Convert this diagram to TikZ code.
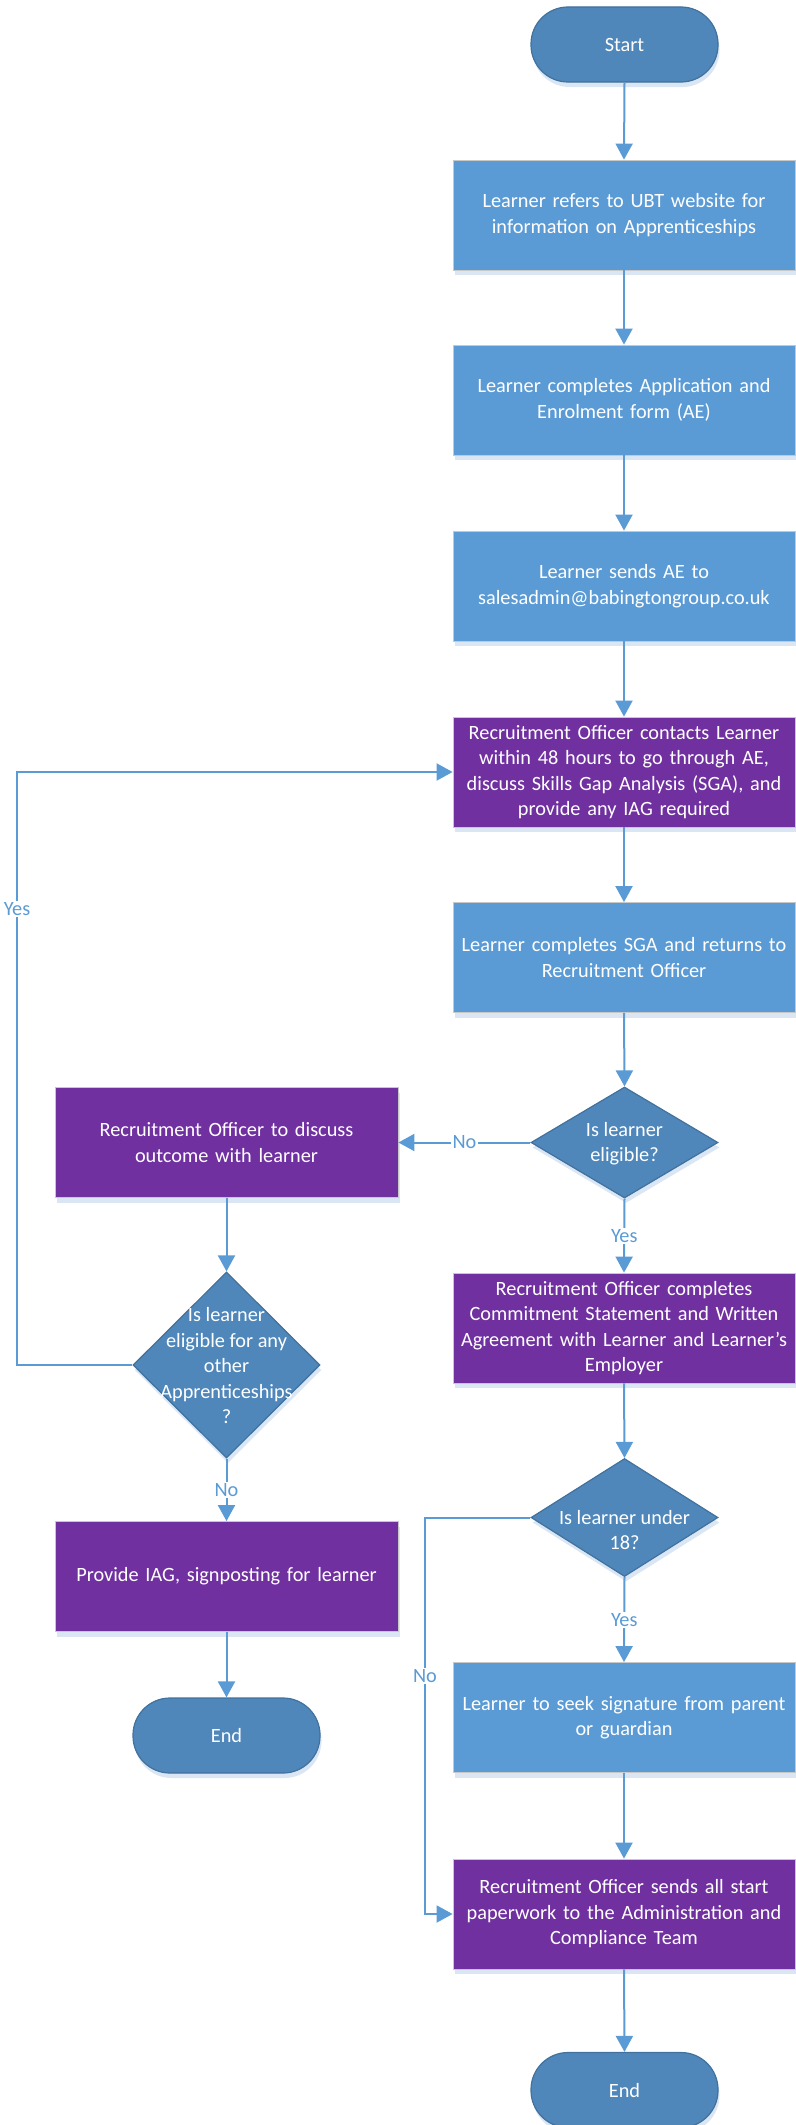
\documentclass[tikz,border=0pt]{standalone}
\usepackage{fontspec}
\setmainfont{Carlito}
\usetikzlibrary{arrows.meta,shapes.geometric,shadows}
\definecolor{lblue}{HTML}{5B9BD5}
\definecolor{purp}{HTML}{7030A0}
\definecolor{dblue}{HTML}{4F87BA}
\definecolor{dborder}{HTML}{41719C}
\definecolor{shad}{HTML}{DAE6F4}
\definecolor{edgec}{HTML}{C8C8C8}
\begin{document}
\begin{tikzpicture}[x=1pt,y=-1pt,
  every node/.style={font=\fontsize{20.3}{25.5}\selectfont, text=white},
  myshadow/.style={general shadow={fill=shad, shadow xshift=1.5pt, shadow yshift=-5pt}},
  bluebox/.style={rectangle, fill=lblue, draw=edgec, line width=0.8pt, minimum width=342pt, minimum height=110pt, text width=338pt, align=center, inner sep=0pt, myshadow},
  purpbox/.style={bluebox, fill=purp},
  term/.style={rectangle, rounded corners=37pt, fill=dblue, draw=dborder, line width=1.2pt, minimum width=187pt, minimum height=75pt, inner sep=0pt, myshadow},
  decision/.style={diamond, fill=dblue, draw=dborder, line width=1.2pt, inner sep=0pt, aspect=1, myshadow},
  dtext/.style={align=center, inner sep=0pt},
  arr/.style={draw=lblue, line width=2pt, -{Triangle[width=17pt,length=16pt]}},
  lbl/.style={fill=white, text=lblue, inner sep=1.5pt}
]
\useasboundingbox (0,0) rectangle (795,2125);

\node[term] (start) at (624.5,44.5) {Start};
\node[bluebox] (b1) at (624,215) {Learner refers to UBT website for\\ information on Apprenticeships};
\node[bluebox] (b2) at (624,400) {Learner completes Application and\\ Enrolment form (AE)};
\node[bluebox] (b3) at (624,586) {Learner sends AE to\\ salesadmin@babingtongroup.co.uk};
\node[purpbox] (b4) at (624,772) {Recruitment Officer contacts Learner\\ within 48 hours to go through AE,\\ discuss Skills Gap Analysis (SGA), and\\ provide any IAG required};
\node[bluebox] (b5) at (624,957.5) {Learner completes SGA and returns to\\ Recruitment Officer};
\node[decision, minimum width=187pt, minimum height=111pt] (d1) at (624.5,1142.5) {};
\node[dtext] (d1t) at (624.5,1143.5) {Is learner\\ eligible?};
\node[purpbox, minimum width=343pt] (l1) at (226.5,1142.5) {Recruitment Officer to discuss\\ outcome with learner};
\node[purpbox] (b6) at (624,1328) {Recruitment Officer completes\\ Commitment Statement and Written\\ Agreement with Learner and Learner’s\\ Employer};
\node[decision, minimum width=187pt, minimum height=186pt] (d2) at (226.5,1365) {};
\node[dtext] (d2t) at (226.5,1366) {Is learner\\ eligible for any\\ other\\ Apprenticeships\\ ?};
\node[purpbox, minimum width=343pt] (l2) at (226.5,1576.5) {Provide IAG, signposting for learner};
\node[term] (endl) at (226.5,1735.5) {End};
\node[decision, minimum width=187pt, minimum height=118pt] (d3) at (624.5,1517.5) {};
\node[dtext] (d3t) at (624.5,1530) {Is learner under\\ 18?};
\node[bluebox] (b7) at (624,1717.5) {Learner to seek signature from parent\\ or guardian};
\node[purpbox] (b8) at (624,1914) {Recruitment Officer sends all start\\ paperwork to the Administration and\\ Compliance Team};
\node[term] (end) at (624.5,2090) {End};

\coordinate (y1) at (17,1365);
\coordinate (y2) at (17,772);
\coordinate (n1) at (425,1517.5);
\coordinate (n2) at (425,1914);

\draw[arr] (start.south) -- (b1.north);
\draw[arr] (b1.south) -- (b2.north);
\draw[arr] (b2.south) -- (b3.north);
\draw[arr] (b3.south) -- (b4.north);
\draw[arr] (b4.south) -- (b5.north);
\draw[arr] (b5.south) -- (d1.north);
\draw[arr] (d1.west) -- node[lbl] {No} (l1.east);
\draw[arr] (d1.south) -- node[lbl] {Yes} (b6.north);
\draw[arr] (l1.south) -- (d2.north);
\draw[arr] (d2.west) -- (y1) -- node[lbl, pos=0.769] {Yes} (y2) -- (b4.west);
\draw[arr] (d2.south) -- node[lbl] {No} (l2.north);
\draw[arr] (l2.south) -- (endl.north);
\draw[arr] (b6.south) -- (d3.north);
\draw[arr] (d3.south) -- node[lbl] {Yes} (b7.north);
\draw[arr] (d3.west) -- (n1) -- node[lbl, pos=0.40] {No} (n2) -- (b8.west);
\draw[arr] (b7.south) -- (b8.north);
\draw[arr] (b8.south) -- (end.north);
\end{tikzpicture}
\end{document}
